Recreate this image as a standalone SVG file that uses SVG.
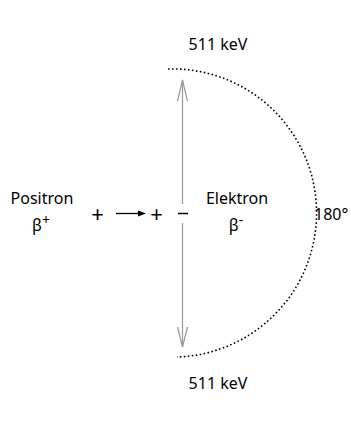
<svg xmlns="http://www.w3.org/2000/svg" width="351" height="421" viewBox="0 0 351 421">
<style>
text{font-family:"Noto Sans","Open Sans","DejaVu Sans",sans-serif;font-size:16px;fill:#000}
.c{text-anchor:middle}
.g{stroke:#999;stroke-width:1.2;fill:none}
.p{font-size:22px}
</style>
<rect width="351" height="421" fill="#fff"/>
<g id="connectors">
<path d="M168,69 A144,144 0 0 1 177,357" fill="none" stroke="#000" stroke-width="1.6" stroke-dasharray="1.6 2.4"/>
<line class="g" x1="182.5" y1="80" x2="182.5" y2="204"/>
<line class="g" x1="182.5" y1="223" x2="182.5" y2="347"/>
<polyline class="g" points="177.5,101 182.5,80 187.5,101"/>
<polyline class="g" points="177.5,327 182.5,347 187.5,327"/>
<line x1="116" y1="213.5" x2="139" y2="213.5" stroke="#000" stroke-width="1.3"/>
<polygon points="146,213.5 138,210.5 138,216.5" fill="#000"/>
</g>
<g id="top-label"><text class="c" x="218" y="50">511 keV</text></g>
<g id="bottom-label"><text class="c" x="218" y="389">511 keV</text></g>
<g id="positron"><text class="c" x="42" y="204">Positron</text><text class="c" x="41" y="231">β<tspan dy="-6" font-size="14">+</tspan></text></g>
<g id="plus1"><text class="c p" x="97.5" y="221.5">+</text></g>
<g id="plus2"><text class="c p" x="156.5" y="221.5">+</text></g>
<g id="minus"><line x1="178" y1="213.5" x2="188" y2="213.5" stroke="#000" stroke-width="1.5"/></g>
<g id="elektron"><text class="c" x="237" y="204">Elektron</text><text class="c" x="236" y="231">β<tspan dy="-6" font-size="14">-</tspan></text></g>
<g id="angle"><text x="314" y="220" font-size="17">180°</text></g>
</svg>
